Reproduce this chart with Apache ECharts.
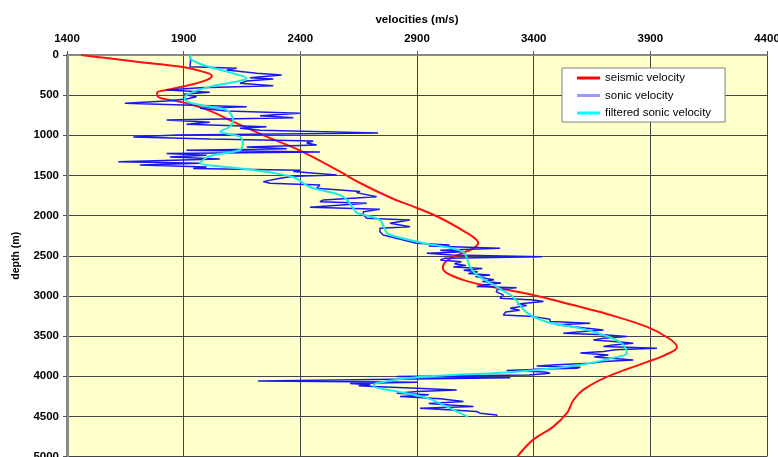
<!DOCTYPE html>
<html>
<head>
<meta charset="utf-8">
<title>velocities vs depth</title>
<script src="https://cdn.jsdelivr.net/npm/echarts@6/dist/echarts.min.js"></script>
<style>
  html, body { margin: 0; padding: 0; background: #ffffff; }
  #chart { width: 778px; height: 457px; }
</style>
</head>
<body>
<div id="chart"></div>
<script>
// Axis ticks
const velocityTicks = [1400, 1900, 2400, 2900, 3400, 3900, 4400];
const depthTicks = [0, 500, 1000, 1500, 2000, 2500, 3000, 3500, 4000, 4500, 5000];

// Seismic velocity: [velocity m/s, depth m]
const seismicVelocity = [
  [1460,0],[1560,35],[1700,85],[1897,150],[1985,210],[2021,262],[2000,310],[1930,370],
  [1820,440],[1786,470],[1790,519],[1841,560],[1897,590],[2000,680],[2112,830],[2250,1010],
  [2399,1190],[2570,1453],[2656,1594],[2797,1790],[2900,1905],[3000,2030],[3114,2216],
  [3155,2300],[3162,2341],[3140,2410],[3097,2465],[3029,2560],[3011,2650],[3030,2720],
  [3097,2800],[3183,2864],[3397,2988],[3550,3100],[3714,3225],[3886,3386],[3980,3530],
  [4014,3635],[3960,3740],[3886,3822],[3714,4009],[3612,4171],[3570,4300],[3543,4457],
  [3483,4631],[3397,4793],[3330,5000]
];

// Sonic log velocity: [velocity m/s, depth m]
const sonicVelocity = [
  [1927,0],[1930,60],[1927,145],[2127,166],[2084,187],[2213,228],[2320,249],[2184,282],
  [2284,299],[2170,324],[2141,353],[2284,382],[1970,407],[1827,436],[2012,465],[1898,490],
  [1955,519],[1912,548],[1827,573],[1648,602],[1898,623],[2170,643],[1970,664],[2084,697],
  [2398,726],[2227,755],[2370,780],[1827,809],[2012,838],[1912,863],[2255,892],[2141,913],
  [2227,938],[2733,970],[1870,996],[1684,1021],[2012,1046],[2455,1071],[2427,1096],
  [2470,1121],[2170,1145],[2341,1166],[1912,1187],[2484,1208],[1827,1228],[1998,1249],
  [1841,1270],[2055,1295],[1620,1328],[1970,1349],[1712,1370],[1998,1394],[1941,1415],
  [2398,1436],[2370,1452],[2556,1494],[2370,1510],[2313,1535],[2241,1577],[2270,1598],
  [2484,1619],[2470,1660],[2656,1701],[2641,1714],[2727,1764],[2499,1805],[2484,1826],
  [2684,1847],[2441,1897],[2741,1922],[2670,1951],[2670,1990],[2684,2034],[2870,2055],
  [2784,2096],[2870,2138],[2741,2158],[2741,2200],[2755,2241],[2841,2304],[2898,2345],
  [3040,2366],[2950,2380],[3256,2407],[3000,2430],[3100,2450],[2942,2469],[3050,2490],
  [3435,2511],[3020,2530],[3000,2552],[3090,2575],[3060,2600],[3110,2620],[3056,2640],
  [3180,2660],[3100,2680],[3160,2700],[3120,2720],[3213,2739],[3150,2760],[3142,2780],
  [3230,2800],[3180,2820],[3260,2840],[3190,2860],[3156,2884],[3327,2900],[3242,2925],
  [3240,2950],[3270,2988],[3256,3029],[3400,3050],[3442,3070],[3330,3100],[3370,3120],
  [3299,3154],[3340,3180],[3280,3200],[3270,3237],[3400,3258],[3470,3290],[3470,3320],
  [3642,3340],[3500,3360],[3560,3380],[3620,3400],[3699,3424],[3600,3445],[3527,3465],
  [3700,3485],[3799,3507],[3700,3528],[3656,3548],[3760,3570],[3827,3590],[3740,3610],
  [3699,3631],[3929,3652],[3750,3672],[3699,3693],[3600,3712],[3720,3735],[3660,3760],
  [3827,3797],[3700,3818],[3642,3839],[3520,3855],[3413,3872],[3600,3888],[3584,3901],
  [3400,3915],[3284,3930],[3450,3947],[3470,3963],[3380,3985],[2813,4005],[3300,4020],
  [2219,4060],[2900,4075],[2613,4090],[2700,4105],[2650,4118],[2713,4129],[2900,4150],
  [3070,4171],[2900,4190],[2813,4212],[2950,4230],[2827,4254],[3000,4280],[3099,4316],
  [2950,4340],[3040,4360],[3142,4378],[2913,4399],[3050,4420],[3156,4440],[3170,4460],
  [3242,4482],[3243,4495]
];

// Filtered (smoothed) sonic velocity: [velocity m/s, depth m]
const filteredSonicVelocity = [
  [1927,0],[1935,60],[1990,130],[2100,220],[2170,290],[2130,330],[2013,394],[1912,498],
  [1905,560],[1970,623],[2084,685],[2112,809],[2098,892],[2056,954],[2141,1016],[2154,1100],
  [2141,1183],[2030,1245],[1992,1286],[1970,1349],[2050,1385],[2200,1432],[2369,1519],
  [2441,1644],[2570,1743],[2600,1805],[2626,1905],[2643,1967],[2741,2054],[2771,2216],
  [2814,2266],[2926,2341],[3097,2453],[3127,2639],[3157,2739],[3213,2839],[3286,2963],
  [3312,3013],[3372,3212],[3457,3324],[3629,3424],[3770,3573],[3800,3710],[3740,3772],
  [3599,3860],[3312,3947],[2913,4009],[2729,4084],[2712,4121],[2827,4196],[2943,4270],
  [3029,4382],[3119,4507]
];

const chart = echarts.init(document.getElementById('chart'), null, { renderer: 'canvas' });

const labelFont = { fontFamily: 'Liberation Sans, Arial, sans-serif', fontWeight: 'bold', fontSize: 11.5, color: '#000' };
const plainNumber = (v) => String(v);

chart.setOption({
  animation: false,
  backgroundColor: '#ffffff',
  grid: {
    left: 67, right: 11, top: 55, bottom: 0.5,
    containLabel: false,
    outerBoundsMode: 'none',
    show: true, backgroundColor: '#FFFFCC', borderWidth: 0
  },
  legend: {
    orient: 'vertical',
    left: 562, top: 68,
    padding: [4, 14, 3, 15],
    itemGap: 5.5,
    itemWidth: 23, itemHeight: 3,
    icon: 'rect',
    backgroundColor: '#ffffff',
    borderColor: '#808080',
    borderWidth: 1,
    textStyle: { fontFamily: 'Liberation Sans, Arial, sans-serif', fontSize: 11.5, color: '#000', lineHeight: 12 },
    data: [
      { name: 'seismic velocity', itemStyle: { color: '#ff0000' } },
      { name: 'sonic velocity', itemStyle: { color: '#9999ff' } },
      { name: 'filtered sonic velocity', itemStyle: { color: '#00ffff' } }
    ]
  },
  xAxis: {
    type: 'value',
    position: 'top',
    min: velocityTicks[0],
    max: velocityTicks[velocityTicks.length - 1],
    interval: 500,
    name: 'velocities (m/s)',
    nameLocation: 'middle',
    nameGap: 29,
    nameTextStyle: labelFont,
    axisLine: { show: true, lineStyle: { color: '#8a8a8a', width: 2 } },
    axisTick: { show: true, length: 4, lineStyle: { color: '#555' } },
    axisLabel: Object.assign({ margin: 10, formatter: plainNumber }, labelFont),
    splitLine: { show: true, lineStyle: { color: '#444', width: 1 } }
  },
  yAxis: {
    type: 'value',
    inverse: true,
    min: depthTicks[0],
    max: depthTicks[depthTicks.length - 1],
    interval: 500,
    name: 'depth (m)',
    nameLocation: 'middle',
    nameGap: 45,
    nameRotate: 90,
    nameTextStyle: Object.assign({}, labelFont, { fontSize: 10.5 }),
    axisLine: { show: true, lineStyle: { color: '#8a8a8a', width: 3 } },
    axisTick: { show: true, length: 4, lineStyle: { color: '#555' } },
    axisLabel: Object.assign({ margin: 8, formatter: plainNumber }, labelFont),
    splitLine: { show: true, lineStyle: { color: '#444', width: 1 } }
  },
  series: [
    {
      name: 'seismic velocity',
      type: 'line',
      data: seismicVelocity,
      showSymbol: false,
      smooth: 0.4,
      lineStyle: { color: '#ff1010', width: 2 },
      itemStyle: { color: '#ff0000' },
      z: 3
    },
    {
      name: 'sonic velocity',
      type: 'line',
      data: sonicVelocity,
      showSymbol: false,
      lineStyle: { color: '#1818ee', width: 1.5 },
      itemStyle: { color: '#9999ff' },
      z: 4
    },
    {
      name: 'filtered sonic velocity',
      type: 'line',
      data: filteredSonicVelocity,
      showSymbol: false,
      smooth: 0.3,
      lineStyle: { color: '#19eaea', width: 2 },
      itemStyle: { color: '#00ffff' },
      z: 5
    }
  ]
});
</script>
</body>
</html>
